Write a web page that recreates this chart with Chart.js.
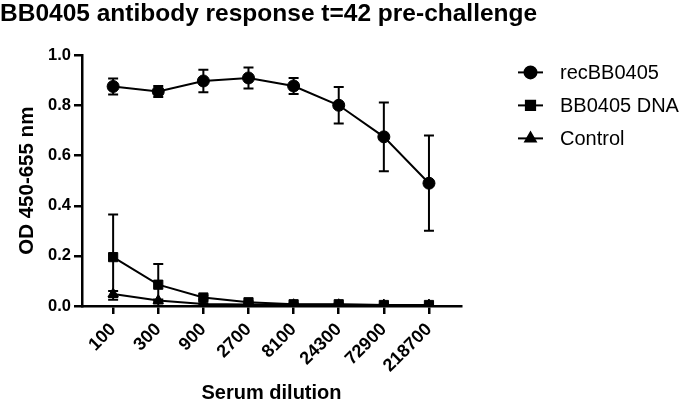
<!DOCTYPE html>
<html>
<head>
<meta charset="utf-8">
<script src="https://cdn.jsdelivr.net/npm/chart.js@4.4.0/dist/chart.umd.min.js"></script>
<style>
  html, body { margin: 0; padding: 0; background: #fff; }
  #wrap { width: 685px; height: 406px; }
</style>
</head>
<body>
<div id="wrap"><canvas id="od-chart" width="685" height="406"></canvas></div>
<script>
// serum dilutions (x categories)
var dilutions = ['100', '300', '900', '2700', '8100', '24300', '72900', '218700'];

// mean OD and error per group
var recBB0405 = [0.876, 0.856, 0.898, 0.910, 0.878, 0.801, 0.675, 0.490];
var recBB0405Err = [0.032, 0.022, 0.045, 0.042, 0.032, 0.073, 0.137, 0.190];
var dnaBB0405 = [0.195, 0.085, 0.034, 0.015, 0.007, 0.007, 0.004, 0.004];
var dnaBB0405Err = [0.170, 0.083, 0.008, 0.004, 0.003, 0.003, 0.002, 0.002];
var control = [0.048, 0.022, 0.008, 0.006, 0.005, 0.005, 0.004, 0.004];
var controlErr = [0.012, 0.004, 0.003, 0.002, 0.002, 0.002, 0.001, 0.001];

var yTicks = [0, 0.2, 0.4, 0.6, 0.8, 1.0];

var FONT = "'Liberation Sans', Arial, sans-serif";

function pts(arr) {
  return arr.map(function (v, i) { return {x: i, y: v}; });
}

function makeSet(label, values, errs, style, radius) {
  return {
    label: label,
    data: pts(values),
    errors: errs,
    borderColor: '#000',
    backgroundColor: '#000',
    borderWidth: 2,
    pointStyle: style,
    pointRadius: radius,
    pointHoverRadius: radius,
    pointBorderWidth: 1,
    tension: 0
  };
}

// error bars with caps, drawn through the scales
var errorBars = {
  id: 'errorBars',
  beforeDatasetsDraw: function (chart) {
    var ctx = chart.ctx, xs = chart.scales.x, ys = chart.scales.y;
    ctx.save();
    ctx.strokeStyle = '#000';
    ctx.lineWidth = 2;
    chart.data.datasets.forEach(function (ds) {
      ds.data.forEach(function (p, i) {
        var e = ds.errors[i];
        var x = xs.getPixelForValue(p.x);
        var top = ys.getPixelForValue(p.y + e);
        var bot = ys.getPixelForValue(Math.max(0, p.y - e));
        ctx.beginPath();
        ctx.moveTo(x, top); ctx.lineTo(x, bot);
        ctx.moveTo(x - 5, top); ctx.lineTo(x + 5, top);
        ctx.moveTo(x - 5, bot); ctx.lineTo(x + 5, bot);
        ctx.stroke();
      });
    });
    ctx.restore();
  }
};

// legend: short line with marker, then label
var sideLegend = {
  id: 'sideLegend',
  afterDraw: function (chart) {
    var ctx = chart.ctx, area = chart.chartArea;
    var x0 = area.right + 57;
    ctx.save();
    chart.data.datasets.forEach(function (ds, i) {
      var y = area.top + 17 + i * 33;
      ctx.strokeStyle = '#000';
      ctx.fillStyle = '#000';
      ctx.lineWidth = 2;
      ctx.beginPath();
      ctx.moveTo(x0, y); ctx.lineTo(x0 + 25, y);
      ctx.stroke();
      Chart.helpers.drawPoint(ctx, {pointStyle: ds.pointStyle, radius: ds.pointRadius, borderWidth: 1}, x0 + 12.5, y);
      ctx.font = '20px ' + FONT;
      ctx.textBaseline = 'middle';
      ctx.fillText(ds.label, x0 + 42, y + 1);
    });
    ctx.restore();
  }
};

new Chart(document.getElementById('od-chart'), {
  type: 'line',
  data: {
    datasets: [
      makeSet('recBB0405', recBB0405, recBB0405Err, 'circle', 6),
      makeSet('BB0405 DNA', dnaBB0405, dnaBB0405Err, 'rect', 6.5),
      makeSet('Control', control, controlErr, 'triangle', 6)
    ]
  },
  options: {
    responsive: false,
    animation: false,
    layout: {padding: 0},
    plugins: {
      legend: {display: false},
      tooltip: {enabled: false},
      title: {
        display: true,
        text: 'BB0405 antibody response t=42 pre-challenge',
        align: 'start',
        color: '#000',
        font: {family: FONT, size: 24.5, weight: 'bold'},
        padding: {top: 0, bottom: 26}
      }
    },
    scales: {
      x: {
        type: 'linear',
        min: -0.69,
        max: 7.71,
        afterBuildTicks: function (scale) {
          scale.ticks = dilutions.map(function (d, i) { return {value: i}; });
        },
        afterFit: function (scale) { scale.height = 100; },
        ticks: {
          callback: function (v) { return dilutions[v]; },
          minRotation: 45,
          maxRotation: 45,
          color: '#000',
          padding: 5,
          font: {family: FONT, size: 18, weight: 'bold'}
        },
        grid: {display: true, drawOnChartArea: false, drawTicks: true, tickLength: 8, lineWidth: 2.5, color: '#000'},
        border: {display: true, width: 2.5, color: '#000'},
        title: {
          display: true,
          text: 'Serum dilution',
          color: '#000',
          font: {family: FONT, size: 20, weight: 'bold'},
          padding: {top: 0, bottom: 1}
        }
      },
      y: {
        min: 0,
        max: 1,
        afterBuildTicks: function (scale) {
          scale.ticks = yTicks.map(function (v) { return {value: v}; });
        },
        afterFit: function (scale) { scale.width = 82; },
        ticks: {
          callback: function (v) { return v.toFixed(1); },
          color: '#000',
          padding: 3,
          font: {family: FONT, size: 16.5, weight: 'bold'}
        },
        grid: {display: true, drawOnChartArea: false, drawTicks: true, tickLength: 8, lineWidth: 2.5, color: '#000'},
        border: {display: true, width: 2.5, color: '#000'},
        title: {
          display: true,
          text: 'OD 450-655 nm',
          color: '#000',
          font: {family: FONT, size: 20.5, weight: 'bold'},
          padding: {top: 15, bottom: 0}
        }
      },
      // empty right-hand axis that reserves the legend's room
      side: {
        position: 'right',
        min: 0,
        max: 1,
        afterFit: function (scale) { scale.width = 224; },
        ticks: {display: false},
        grid: {display: false},
        border: {display: false}
      }
    }
  },
  plugins: [errorBars, sideLegend]
});
</script>
</body>
</html>
